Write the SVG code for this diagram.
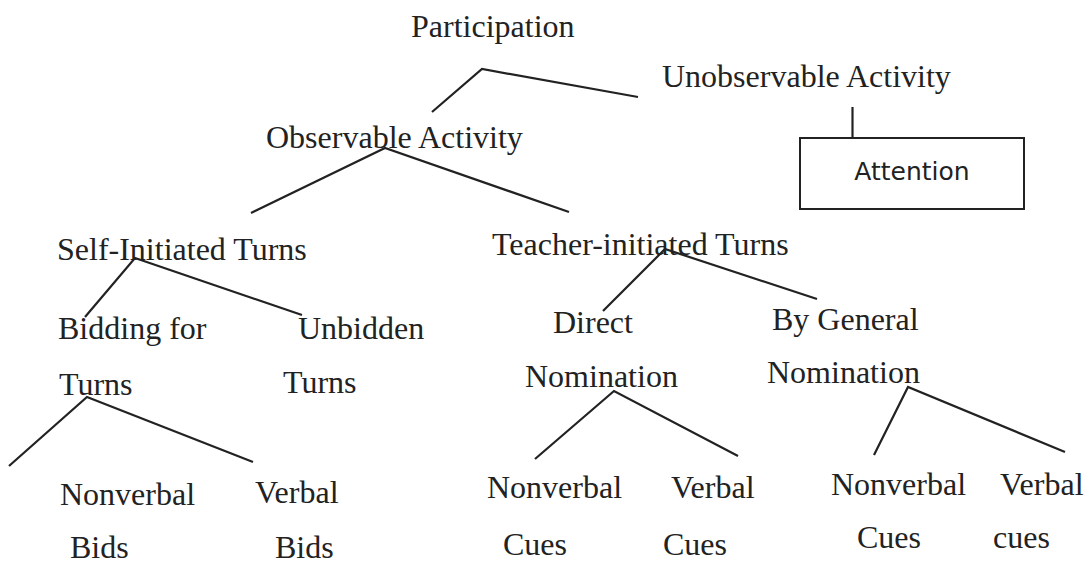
<svg xmlns="http://www.w3.org/2000/svg" width="1087" height="565" viewBox="0 0 1087 565">
<style>
.t{font-family:"Liberation Serif","Times New Roman",serif;font-size:32px;fill:#222}
.s{font-family:"DejaVu Sans",Verdana,sans-serif;font-size:25px;fill:#222}
.c line,.c polyline{stroke:#222;stroke-width:2.2;fill:none}
</style>
<rect width="1087" height="565" fill="#fff"/>
<g id="connectors" class="c">
<polyline points="432,112 482,69 638,97"/>
<line x1="852.5" y1="107" x2="852.5" y2="138"/>
<polyline points="251,213 385,148 569,212"/>
<polyline points="85,317 135,258 302,315"/>
<polyline points="9,466 87,397 253,462"/>
<polyline points="603,311 665,249 817,299"/>
<polyline points="535,459 614,391 738,456"/>
<polyline points="874,455 908,387 1065,452"/>
</g>
<g id="participation"><text class="t" x="411" y="37">Participation</text></g>
<g id="unobservable"><text class="t" x="662" y="87">Unobservable Activity</text></g>
<g id="attention"><rect x="800" y="138" width="224" height="71" fill="#fff" stroke="#222" stroke-width="2"/><text class="s" x="912" y="180" text-anchor="middle">Attention</text></g>
<g id="observable"><text class="t" x="266" y="148">Observable Activity</text></g>
<g id="self-initiated"><text class="t" x="57" y="260">Self-Initiated Turns</text></g>
<g id="teacher-initiated"><text class="t" x="492" y="255">Teacher-initiated Turns</text></g>
<g id="bidding"><text class="t" x="58" y="339">Bidding for</text><text class="t" x="59" y="395">Turns</text></g>
<g id="unbidden"><text class="t" x="298" y="339">Unbidden</text><text class="t" x="283" y="393">Turns</text></g>
<g id="direct"><text class="t" x="553" y="333">Direct</text><text class="t" x="525" y="387">Nomination</text></g>
<g id="general"><text class="t" x="772" y="330">By General</text><text class="t" x="767" y="383">Nomination</text></g>
<g id="nv-bids"><text class="t" x="60" y="505">Nonverbal</text><text class="t" x="70" y="558">Bids</text></g>
<g id="v-bids"><text class="t" x="255" y="503">Verbal</text><text class="t" x="275" y="558">Bids</text></g>
<g id="nv-cues-1"><text class="t" x="487" y="498">Nonverbal</text><text class="t" x="503" y="555">Cues</text></g>
<g id="v-cues-1"><text class="t" x="671" y="498">Verbal</text><text class="t" x="663" y="555">Cues</text></g>
<g id="nv-cues-2"><text class="t" x="831" y="495">Nonverbal</text><text class="t" x="857" y="548">Cues</text></g>
<g id="v-cues-2"><text class="t" x="1000" y="495">Verbal</text><text class="t" x="993" y="548">cues</text></g>
</svg>
